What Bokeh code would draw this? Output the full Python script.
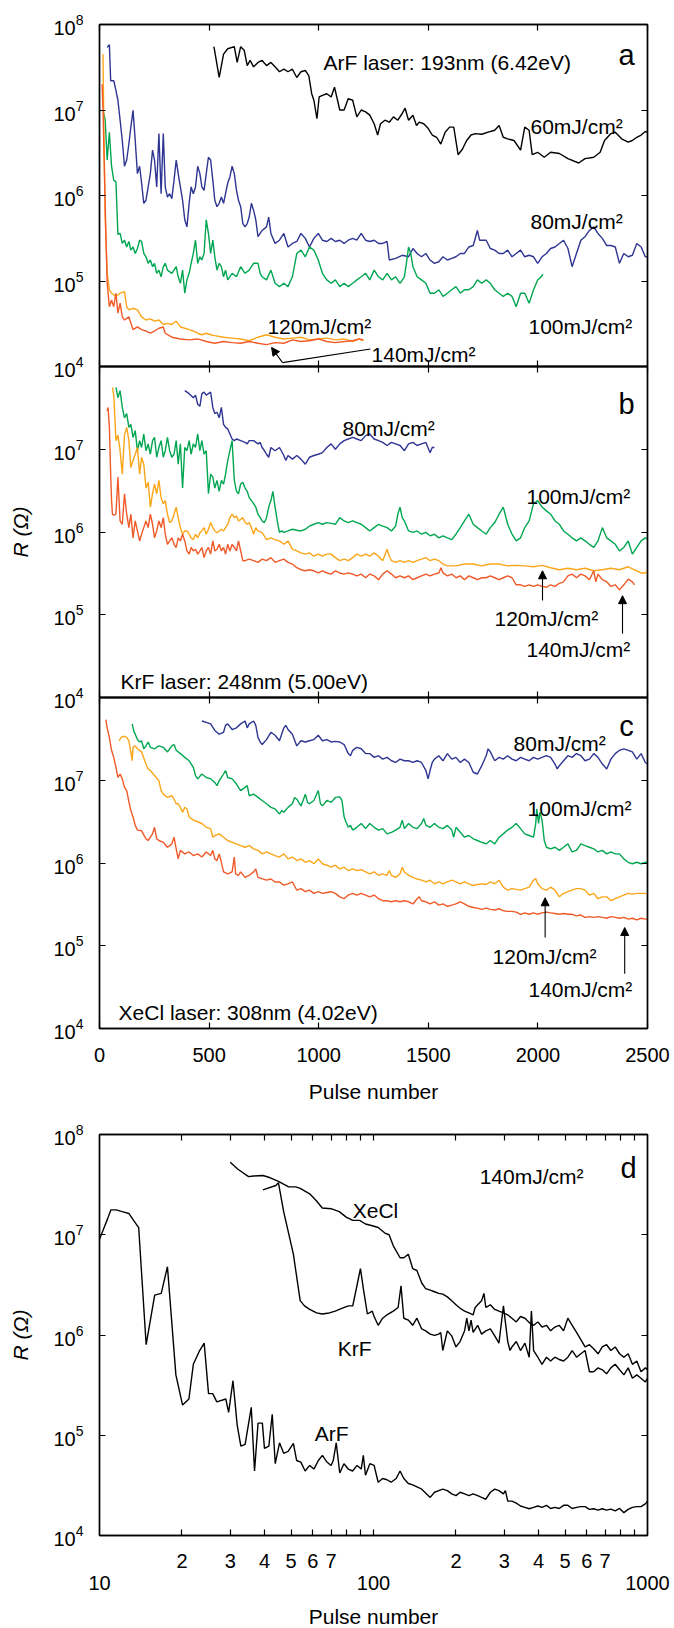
import math
from bokeh.plotting import figure
from bokeh.models import Range1d, LinearAxis, LogAxis, FixedTicker, Label, Arrow, NormalHead, CustomJSTickFormatter
from bokeh.layouts import column
from bokeh.embed import file_html
from bokeh.resources import INLINE

FONT = "Liberation Sans"
BLUE = "#2E3592"
GREEN = "#00A651"
ORANGE = "#FAA61A"
RED = "#F05A28"
BLACK = "#000000"

# ---------------- data (pulse number, resistance in ohm) ----------------
# panel a : ArF
a60 = [(522,5.5e7),(546,2.4e7),(566,4.5e7),(585,5.2e7),(615,5.5e7),(628,3.6e7),(644,5.5e7),(660,5.0e7),(674,3.3e7),(687,3.8e7),
       (703,3.2e7),(723,3.6e7),(742,3.8e7),(762,3.3e7),(782,3.6e7),(801,3.2e7),(821,2.8e7),(841,3.0e7),(860,2.8e7),(880,3.0e7),
       (900,2.4e7),(919,2.8e7),(939,2.9e7),(955,2.5e7),(968,1.55e7),(978,1.3e7),(992,7.9e6),(1002,1.42e7),(1017,1.48e7),(1037,1.55e7),
       (1057,1.42e7),(1072,1.85e7),(1086,1.3e7),(1096,1.0e7),(1116,1.0e7),(1135,1.36e7),(1155,1.3e7),(1174,8.3e6),(1194,1.0e7),(1214,9.5e6),
       (1233,8.7e6),(1253,6.9e6),(1269,5.1e6),(1282,6.9e6),(1302,7.6e6),(1322,7.2e6),(1341,8.3e6),(1361,7.6e6),(1381,9.1e6),(1394,1.05e7),
       (1410,7.6e6),(1430,8.7e6),(1446,6.6e6),(1459,7.2e6),(1479,6.9e6),(1499,6.1e6),(1518,5.1e6),(1538,4.8e6),(1557,4.0e6),(1577,5.5e6),
       (1597,6.3e6),(1616,6.3e6),(1636,3.0e6),(1656,3.5e6),(1675,4.4e6),(1695,5.1e6),(1715,5.3e6),(1744,5.2e6),(1773,5.5e6),(1803,5.8e6),
       (1823,6.6e6),(1842,4.8e6),(1862,4.6e6),(1891,4.4e6),(1921,3.4e6),(1940,6.3e6),(1960,5.8e6),(1974,3.0e6),(1999,3.2e6),(2029,2.8e6),
       (2058,3.2e6),(2098,3.1e6),(2137,2.7e6),(2186,2.4e6),(2215,2.7e6),(2255,2.8e6),(2284,3.2e6),(2304,4.4e6),(2333,5.3e6),(2353,5.5e6),
       (2382,4.6e6),(2412,4.2e6),(2431,4.4e6),(2451,4.8e6),(2471,5.1e6),(2490,5.6e6),(2500,5.5e6)]
a80 = [(35,5.4e7),(45,5.8e7),(51,2.2e7),(65,2.2e7),(75,1.7e7),(84,1.3e7),(94,7.6e6),(104,4.4e6),(114,2.2e6),(124,2.6e6),(134,4.0e6),
       (143,6.3e6),(153,9.9e6),(163,4.4e6),(173,1.8e6),(183,2.2e6),(192,1.4e6),(202,8.1e5),(212,8.8e5),(222,1.26e6),(232,1.8e6),(242,3.4e6),
       (251,2.6e6),(261,1.26e6),(271,5.3e6),(281,1.05e6),(291,5.3e6),(300,1.26e6),(310,9.6e5),(320,1.05e6),(330,9.2e5),(340,1.5e6),(350,2.6e6),
       (359,1.8e6),(369,1.26e6),(379,8.8e5),(389,5.2e5),(399,4.3e5),(409,8.1e5),(418,1.26e6),(428,1.05e6),(438,1.26e6),(448,2.2e6),(458,1.8e6),
       (467,1.26e6),(477,1.15e6),(487,1.8e6),(497,2.8e6),(507,2.6e6),(517,1.5e6),(526,8.8e5),(536,7.4e5),(546,8.1e5),(556,9.6e5),(566,8.1e5),
       (575,1.05e6),(585,1.4e6),(595,1.65e6),(605,2.2e6),(615,1.8e6),(625,1.15e6),(634,8.8e5),(644,7.4e5),(654,4.7e5),(664,4.3e5),(674,4.7e5),
       (683,5.6e5),(693,8.1e5),(703,6.7e5),(713,5.2e5),(723,3.3e5),(742,3.9e5),(762,4.3e5),(772,5.6e5),(782,3.6e5),(801,2.75e5),(821,3.0e5),
       (841,3.6e5),(860,2.5e5),(880,2.75e5),(900,2.9e5),(919,3.6e5),(939,3.15e5),(958,2.5e5),(978,3.15e5),(998,3.6e5),(1017,3.0e5),(1037,2.9e5),
       (1057,3.15e5),(1076,2.9e5),(1096,3.0e5),(1116,2.75e5),(1135,3.0e5),(1155,3.15e5),(1174,3.0e5),(1194,3.6e5),(1214,3.0e5),(1233,2.9e5),
       (1253,3.0e5),(1273,2.75e5),(1292,2.75e5),(1312,2.9e5),(1322,1.76e5),(1351,1.84e5),(1381,2.0e5),(1410,1.92e5),(1430,2.4e5),(1449,2.1e5),
       (1469,1.92e5),(1489,2.1e5),(1508,1.76e5),(1528,1.61e5),(1548,1.68e5),(1567,1.92e5),(1587,1.76e5),(1607,1.84e5),(1626,1.92e5),(1646,2.1e5),
       (1665,2.1e5),(1685,2.5e5),(1705,2.6e5),(1724,3.9e5),(1734,3.0e5),(1764,3.0e5),(1783,2.4e5),(1803,2.3e5),(1823,2.1e5),(1842,2.1e5),
       (1862,2.3e5),(1882,1.92e5),(1901,2.1e5),(1921,2.3e5),(1940,1.92e5),(1960,2.0e5),(1980,1.92e5),(1999,1.61e5),(2019,1.92e5),(2039,2.1e5),
       (2058,2.4e5),(2078,2.5e5),(2098,2.75e5),(2117,3.0e5),(2137,2.4e5),(2156,1.47e5),(2176,2.1e5),(2196,3.0e5),(2215,3.3e5),(2235,3.9e5),
       (2255,4.3e5),(2274,3.6e5),(2294,3.15e5),(2314,2.6e5),(2333,2.6e5),(2353,2.5e5),(2372,1.61e5),(2392,2.1e5),(2412,1.92e5),(2431,2.0e5),
       (2451,2.75e5),(2471,2.5e5),(2490,1.92e5),(2500,1.92e5)]
a100 = [(16,1.0e7),(26,7.6e6),(35,2.6e6),(45,5.5e6),(55,2.2e6),(65,1.5e6),(75,1.45e6),(84,3.5e5),(94,3.6e5),(104,2.75e5),(114,3.0e5),
        (124,2.5e5),(134,2.9e5),(143,2.3e5),(153,2.5e5),(163,2.1e5),(173,2.4e5),(183,3.0e5),(192,2.9e5),(202,2.1e5),(212,1.92e5),(222,1.61e5),
        (232,1.76e5),(242,1.47e5),(251,1.61e5),(261,1.23e5),(271,1.34e5),(281,1.12e5),(291,1.47e5),(300,1.61e5),(310,1.34e5),(330,1.23e5),
        (350,1.47e5),(359,1.12e5),(369,9.4e4),(379,1.34e5),(389,7.2e4),(399,1.03e5),(409,1.23e5),(418,1.61e5),(428,2.1e5),(438,3.0e5),
        (448,1.61e5),(458,1.92e5),(467,1.76e5),(477,2.1e5),(487,5.2e5),(497,3.6e5),(507,2.1e5),(517,3.0e5),(526,1.92e5),(536,1.34e5),
        (546,1.61e5),(556,1.47e5),(566,1.12e5),(575,1.34e5),(585,1.03e5),(605,1.23e5),(625,1.12e5),(644,1.47e5),(664,1.23e5),(683,1.34e5),
        (703,1.61e5),(723,1.61e5),(733,1.23e5),(742,1.12e5),(762,1.03e5),(782,1.34e5),(801,9.4e4),(821,8.6e4),(841,9.4e4),(860,8.6e4),
        (880,1.12e5),(900,2.1e5),(919,2.3e5),(939,1.92e5),(958,2.5e5),(978,2.3e5),(998,1.76e5),(1017,1.23e5),(1037,1.03e5),(1057,9.4e4),
        (1076,1.03e5),(1096,8.6e4),(1116,9.4e4),(1135,8.6e4),(1155,9.4e4),(1174,1.03e5),(1194,1.12e5),(1214,1.23e5),(1233,1.03e5),(1253,1.34e5),
        (1273,1.12e5),(1292,1.03e5),(1312,1.23e5),(1332,1.03e5),(1351,1.12e5),(1371,9.4e4),(1391,1.12e5),(1400,1.61e5),(1410,2.5e5),(1420,2.1e5),
        (1430,1.47e5),(1449,1.12e5),(1469,1.03e5),(1489,9.4e4),(1508,7.2e4),(1528,7.2e4),(1548,7.9e4),(1567,6.6e4),(1587,7.2e4),(1607,7.9e4),
        (1626,8.6e4),(1646,7.2e4),(1665,7.9e4),(1685,7.9e4),(1705,8.6e4),(1724,1.03e5),(1744,9.4e4),(1764,1.03e5),(1783,9.4e4),(1803,7.9e4),
        (1823,7.2e4),(1842,6.6e4),(1862,7.2e4),(1882,6.6e4),(1901,5.0e4),(1921,7.2e4),(1940,7.2e4),(1960,5.5e4),(1980,7.9e4),(1999,1.03e5),
        (2015,1.12e5),(2023,1.2e5)]
a120 = [(16,4.5e7),(20,5.3e6),(26,5.6e5),(35,1.23e5),(45,7.9e4),(55,7.2e4),(75,6.6e4),(94,7.2e4),(114,7.5e4),(124,5.0e4),(134,4.6e4),
        (153,4.8e4),(173,4.6e4),(192,3.8e4),(212,3.5e4),(232,3.6e4),(251,3.4e4),(271,3.5e4),(291,3.1e4),(310,3.2e4),(330,3.1e4),(350,3.4e4),
        (369,2.9e4),(389,2.8e4),(409,2.7e4),(428,2.6e4),(448,2.45e4),(467,2.35e4),(487,2.45e4),(507,2.35e4),(526,2.3e4),(566,2.2e4),
        (605,2.15e4),(644,2.1e4),(683,2.0e4),(723,2.2e4),(762,2.35e4),(801,2.2e4),(841,2.1e4),(880,2.15e4),(919,2.2e4),(958,2.05e4),
        (998,2.1e4),(1037,2.15e4),(1076,2.05e4),(1116,2.1e4),(1155,1.96e4),(1184,2.1e4),(1204,2.0e4)]
a140 = [(12,2.0e7),(16,1.0e7),(22,2.2e6),(26,7.4e5),(29,3.6e5),(35,9.4e4),(45,5.0e4),(55,6.0e4),(65,5.0e4),(75,7.2e4),(84,4.2e4),
        (94,5.5e4),(104,3.8e4),(114,3.5e4),(134,3.8e4),(153,2.7e4),(173,2.9e4),(192,2.7e4),(212,2.6e4),(232,2.45e4),(251,2.6e4),(271,2.8e4),
        (291,2.9e4),(300,2.45e4),(330,2.2e4),(369,2.1e4),(409,2.05e4),(448,2.1e4),(487,1.96e4),(526,1.87e4),(566,1.96e4),(605,1.9e4),
        (644,1.87e4),(683,1.96e4),(723,1.87e4),(762,1.8e4),(801,1.9e4),(841,1.87e4),(880,2.05e4),(919,1.96e4),(958,2.0e4),(998,2.1e4),
        (1037,1.96e4),(1076,1.9e4),(1116,1.96e4),(1155,2.0e4),(1184,2.1e4),(1204,2.05e4)]

# panel b : KrF
b80 = [(389,5.1e7),(409,4.7e7),(428,4.2e7),(438,4.5e7),(448,3.5e7),(458,3.3e7),(467,4.7e7),(477,4.9e7),(487,4.5e7),(497,4.7e7),
       (507,4.9e7),(517,3.2e7),(526,2.7e7),(536,2.8e7),(546,2.4e7),(556,3.2e7),(566,2.0e7),(575,1.84e7),(585,1.76e7),(595,1.53e7),
       (605,1.33e7),(615,1.27e7),(625,1.33e7),(644,1.27e7),(664,1.21e7),(674,1.16e7),(683,1.27e7),(703,1.27e7),(723,1.16e7),(733,1.21e7),
       (742,1.05e7),(752,9.6e6),(762,8.7e6),(772,8.0e6),(782,1.05e7),(801,9.6e6),(821,1.05e7),(841,8.4e6),(850,7.3e6),(860,8.4e6),
       (880,7.6e6),(900,8.4e6),(919,7.6e6),(939,6.6e6),(958,8.0e6),(978,8.4e6),(998,8.7e6),(1017,9.1e6),(1037,1.05e7),(1057,1.16e7),
       (1076,1.0e7),(1096,1.16e7),(1116,1.27e7),(1135,1.33e7),(1155,1.39e7),(1174,1.33e7),(1194,1.27e7),(1214,1.46e7),(1233,1.53e7),
       (1253,1.33e7),(1273,1.27e7),(1292,1.21e7),(1312,1.11e7),(1332,1.21e7),(1351,1.16e7),(1371,1.11e7),(1391,9.6e6),(1410,1.16e7),
       (1430,1.21e7),(1449,1.11e7),(1469,1.16e7),(1489,1.21e7),(1508,9.1e6),(1518,1.05e7),(1528,1.05e7)]
b100 = [(75,5.6e7),(84,4.2e7),(94,5.1e7),(104,3.2e7),(114,2.4e7),(124,2.7e7),(134,1.84e7),(143,2.0e7),(153,1.39e7),(163,1.68e7),
        (173,9.6e6),(183,1.27e7),(192,1.05e7),(202,1.53e7),(212,9.6e6),(222,1.16e7),(232,8.7e6),(242,1.27e7),(251,1.39e7),(261,8.0e6),
        (271,1.05e7),(281,1.27e7),(291,8.0e6),(300,9.6e6),(310,1.39e7),(320,9.6e6),(330,8.0e6),(340,8.7e6),(350,1.27e7),(359,6.6e6),
        (369,1.16e7),(379,3.4e6),(389,1.05e7),(399,9.6e6),(409,1.27e7),(418,8.7e6),(428,1.16e7),(438,1.05e7),(448,1.53e7),(458,9.6e6),
        (467,1.27e7),(477,8.7e6),(487,9.6e6),(497,2.9e6),(507,5.0e6),(517,4.6e6),(526,3.4e6),(536,4.2e6),(546,3.1e6),(556,4.2e6),
        (566,3.8e6),(575,5.0e6),(585,7.3e6),(595,9.6e6),(605,1.27e7),(615,4.2e6),(625,3.1e6),(634,2.9e6),(644,3.8e6),(654,4.0e6),
        (664,3.4e6),(674,3.1e6),(683,2.6e6),(693,2.4e6),(703,2.2e6),(713,2.0e6),(723,1.64e6),(733,1.49e6),(742,1.36e6),(752,1.3e6),
        (762,1.49e6),(772,2.0e6),(782,2.4e6),(791,3.1e6),(801,2.0e6),(811,1.36e6),(821,9.9e5),(831,1.03e6),(841,9.9e5),(860,1.03e6),
        (880,1.08e6),(900,1.05e6),(919,1.03e6),(939,1.08e6),(958,1.18e6),(978,1.24e6),(998,1.3e6),(1017,1.24e6),(1037,1.3e6),(1057,1.27e6),
        (1076,1.24e6),(1096,1.49e6),(1116,1.36e6),(1135,1.3e6),(1155,1.36e6),(1174,1.3e6),(1194,1.24e6),(1214,1.13e6),(1233,1.03e6),
        (1253,1.13e6),(1273,1.24e6),(1292,1.18e6),(1312,1.13e6),(1332,1.03e6),(1351,1.18e6),(1361,1.64e6),(1371,2.0e6),(1381,1.49e6),
        (1391,1.36e6),(1410,1.03e6),(1430,9.9e5),(1449,1.03e6),(1469,9.4e5),(1489,9.9e5),(1508,9.0e5),(1528,9.4e5),(1548,8.5e5),(1567,9.0e5),
        (1587,8.5e5),(1607,8.1e5),(1626,9.4e5),(1646,1.13e6),(1665,1.36e6),(1685,1.64e6),(1705,1.24e6),(1724,1.13e6),(1744,1.03e6),
        (1764,9.4e5),(1783,1.13e6),(1803,1.3e6),(1823,1.64e6),(1842,2.0e6),(1862,1.24e6),(1882,9.4e5),(1901,7.8e5),(1921,8.5e5),(1940,1.13e6),
        (1960,1.36e6),(1980,2.2e6),(1999,2.4e6),(2019,2.0e6),(2039,1.8e6),(2058,1.64e6),(2078,1.36e6),(2098,1.24e6),(2117,1.03e6),(2137,9.4e5),
        (2156,8.5e5),(2176,7.8e5),(2196,8.5e5),(2215,7.8e5),(2235,7.1e5),(2255,6.5e5),(2274,7.8e5),(2294,1.13e6),(2314,8.5e5),(2333,7.8e5),
        (2353,7.1e5),(2372,5.9e5),(2392,6.5e5),(2412,7.8e5),(2431,5.4e5),(2451,6.5e5),(2471,7.8e5),(2490,8.5e5),(2500,8.2e5)]
b120 = [(59,5.6e7),(65,4.5e7),(71,2.2e7),(75,1.27e7),(84,1.48e7),(94,9.6e6),(104,5.0e6),(114,1.48e7),(124,1.84e7),(134,1.27e7),
        (143,6.0e6),(153,7.3e6),(163,8.7e6),(173,1.05e7),(183,5.0e6),(192,8.0e6),(202,6.6e6),(212,3.4e6),(222,4.0e6),(232,2.0e6),
        (242,2.9e6),(251,3.8e6),(261,2.9e6),(271,4.2e6),(281,2.6e6),(291,2.2e6),(300,2.4e6),(310,1.64e6),(320,1.3e6),(330,1.36e6),
        (340,1.64e6),(350,2.0e6),(359,1.49e6),(369,1.13e6),(379,9.4e5),(389,1.03e6),(399,1.03e6),(409,9.4e5),(418,8.5e5),(428,8.1e5),
        (438,9.4e5),(448,8.5e5),(458,9.8e5),(467,1.03e6),(477,1.13e6),(487,9.4e5),(497,1.08e6),(507,1.3e6),(517,1.13e6),(526,1.03e6),
        (536,9.8e5),(546,1.03e6),(556,1.08e6),(566,1.03e6),(575,1.13e6),(585,1.24e6),(595,1.49e6),(605,1.64e6),(615,1.49e6),(625,1.56e6),
        (634,1.36e6),(644,1.42e6),(654,1.49e6),(664,1.3e6),(674,1.24e6),(683,1.3e6),(693,1.13e6),(703,9.4e5),(713,1.13e6),(723,1.03e6),
        (742,9.8e5),(762,8.1e5),(782,8.5e5),(801,8.1e5),(821,7.8e5),(841,7.1e5),(860,7.8e5),(880,6.2e5),(900,5.9e5),(919,5.6e5),
        (939,5.4e5),(958,5.6e5),(978,5.1e5),(998,5.4e5),(1017,5.1e5),(1037,5.4e5),(1057,5.4e5),(1076,4.9e5),(1096,4.5e5),(1116,4.7e5),
        (1135,4.5e5),(1155,4.9e5),(1174,5.4e5),(1194,5.1e5),(1214,5.4e5),(1233,5.1e5),(1253,5.6e5),(1273,5.1e5),(1292,4.5e5),(1312,6.2e5),
        (1322,5.1e5),(1332,4.5e5),(1351,4.3e5),(1371,4.5e5),(1391,4.3e5),(1410,4.5e5),(1430,4.3e5),(1449,4.5e5),(1469,4.7e5),(1489,4.9e5),
        (1508,4.5e5),(1528,4.7e5),(1548,4.5e5),(1567,4.1e5),(1587,3.9e5),(1626,3.9e5),(1665,4.1e5),(1705,4.1e5),(1744,3.9e5),(1783,4.1e5),
        (1823,4.1e5),(1862,3.9e5),(1901,3.95e5),(1940,3.9e5),(1980,3.8e5),(2019,3.95e5),(2058,3.7e5),(2098,3.5e5),(2137,3.65e5),(2176,3.5e5),
        (2215,3.65e5),(2255,3.4e5),(2294,3.5e5),(2333,3.65e5),(2372,3.5e5),(2412,3.8e5),(2451,3.4e5),(2471,3.2e5),(2490,3.2e5),(2500,3.4e5)]
b140 = [(35,2.9e7),(39,3.2e7),(45,1.84e7),(51,5.0e6),(55,2.4e6),(59,1.64e6),(65,1.6e6),(75,1.64e6),(84,4.6e6),(94,1.36e6),(104,1.24e6),
        (114,2.9e6),(124,1.64e6),(134,1.13e6),(143,1.64e6),(153,8.5e5),(163,1.36e6),(173,1.03e6),(183,7.8e5),(192,9.4e5),(202,1.13e6),
        (212,1.36e6),(222,1.13e6),(232,1.64e6),(242,1.24e6),(251,8.5e5),(261,1.03e6),(271,1.36e6),(281,1.13e6),(291,1.49e6),(300,9.4e5),
        (310,7.1e5),(320,7.8e5),(330,8.5e5),(340,7.1e5),(350,6.5e5),(359,8.5e5),(369,7.8e5),(379,9.4e5),(389,7.8e5),(399,5.9e5),(409,5.4e5),
        (418,6.5e5),(428,5.9e5),(438,6.2e5),(448,5.4e5),(458,5.9e5),(467,6.5e5),(477,4.9e5),(487,5.9e5),(497,6.5e5),(507,5.4e5),(517,7.8e5),
        (526,5.9e5),(536,6.2e5),(546,7.1e5),(556,5.9e5),(566,6.5e5),(575,5.4e5),(585,7.1e5),(595,5.9e5),(605,7.1e5),(615,6.5e5),(625,5.9e5),
        (634,7.8e5),(644,5.9e5),(654,4.5e5),(664,4.5e5),(683,4.7e5),(703,4.5e5),(723,4.3e5),(742,4.7e5),(762,4.5e5),(782,4.9e5),(801,4.3e5),
        (821,4.5e5),(841,4.7e5),(860,4.3e5),(880,4.1e5),(900,3.7e5),(919,3.5e5),(939,3.4e5),(958,3.5e5),(978,3.4e5),(998,3.2e5),(1017,3.4e5),
        (1037,3.2e5),(1057,3.1e5),(1076,3.4e5),(1096,3.2e5),(1116,3.1e5),(1135,3.2e5),(1155,3.1e5),(1174,2.95e5),(1194,3.1e5),(1214,2.8e5),
        (1233,3.1e5),(1253,2.95e5),(1273,2.65e5),(1292,3.1e5),(1312,3.4e5),(1332,3.1e5),(1351,2.8e5),(1371,2.95e5),(1391,2.8e5),(1410,2.95e5),
        (1430,2.65e5),(1449,2.8e5),(1469,2.95e5),(1489,3.1e5),(1508,2.95e5),(1528,3.1e5),(1548,3.2e5),(1558,3.7e5),(1567,3.2e5),(1587,2.95e5),
        (1607,3.1e5),(1626,2.8e5),(1646,2.95e5),(1665,2.65e5),(1685,2.95e5),(1705,2.8e5),(1724,2.65e5),(1744,2.8e5),(1764,2.8e5),(1783,2.95e5),
        (1803,2.8e5),(1823,2.65e5),(1842,2.8e5),(1862,2.95e5),(1882,2.8e5),(1901,2.3e5),(1921,2.3e5),(1940,2.2e5),(1960,2.3e5),(1980,2.2e5),
        (1999,2.3e5),(2019,2.2e5),(2039,2.15e5),(2058,2.3e5),(2078,2.2e5),(2098,2.4e5),(2117,2.5e5),(2137,2.95e5),(2156,3.1e5),(2176,2.8e5),
        (2196,3.1e5),(2215,2.95e5),(2235,2.65e5),(2255,3.4e5),(2264,2.5e5),(2274,3.1e5),(2294,2.65e5),(2314,2.5e5),(2333,2.2e5),(2353,2.3e5),
        (2372,2.0e5),(2392,2.3e5),(2412,2.7e5),(2431,2.5e5),(2441,2.3e5)]

# panel c : XeCl
c80 = [(467,5.2e7),(487,5.0e7),(507,4.8e7),(526,4.0e7),(546,3.6e7),(566,3.8e7),(575,4.6e7),(585,4.8e7),(605,4.1e7),(625,4.3e7),
       (644,4.8e7),(664,5.2e7),(674,4.3e7),(683,4.8e7),(703,5.2e7),(713,4.6e7),(723,3.3e7),(733,2.9e7),(742,2.7e7),(762,3.1e7),
       (782,3.8e7),(801,3.5e7),(821,3.0e7),(841,4.3e7),(850,4.6e7),(860,4.1e7),(880,3.6e7),(900,2.6e7),(919,3.0e7),(939,2.9e7),
       (958,3.0e7),(978,3.1e7),(998,3.5e7),(1017,3.0e7),(1037,3.1e7),(1057,2.9e7),(1076,2.95e7),(1096,2.9e7),(1116,2.7e7),(1135,2.1e7),
       (1145,1.98e7),(1155,2.3e7),(1174,2.5e7),(1194,2.4e7),(1214,2.1e7),(1233,2.1e7),(1253,1.89e7),(1273,1.98e7),(1292,1.8e7),(1312,1.89e7),
       (1332,1.72e7),(1351,1.64e7),(1371,1.8e7),(1391,1.72e7),(1410,1.72e7),(1430,1.64e7),(1449,1.72e7),(1469,1.64e7),(1489,1.31e7),
       (1499,1.04e7),(1508,1.31e7),(1518,1.64e7),(1528,1.8e7),(1548,1.98e7),(1567,1.72e7),(1587,2.1e7),(1607,1.8e7),(1626,1.89e7),
       (1646,1.64e7),(1665,1.8e7),(1685,1.64e7),(1705,1.25e7),(1724,1.19e7),(1744,1.5e7),(1764,1.98e7),(1773,2.4e7),(1783,2.2e7),
       (1803,1.72e7),(1823,1.89e7),(1842,1.8e7),(1862,1.98e7),(1882,1.8e7),(1901,1.72e7),(1921,1.89e7),(1940,1.8e7),(1960,1.72e7),
       (1980,1.89e7),(1999,1.8e7),(2019,1.89e7),(2039,1.98e7),(2058,1.89e7),(2078,1.57e7),(2088,1.37e7),(2098,1.5e7),(2117,1.72e7),
       (2137,1.98e7),(2156,1.89e7),(2176,2.1e7),(2196,1.98e7),(2215,1.72e7),(2235,1.8e7),(2255,2.1e7),(2274,1.89e7),(2294,1.57e7),
       (2314,1.37e7),(2333,1.8e7),(2353,2.1e7),(2372,2.3e7),(2392,2.4e7),(2412,2.3e7),(2431,2.2e7),(2451,1.8e7),(2471,2.1e7),(2490,1.64e7),
       (2500,1.57e7)]
c100 = [(149,4.8e7),(157,3.9e7),(163,3.6e7),(173,3.1e7),(183,2.9e7),(192,3.0e7),(202,2.4e7),(212,2.6e7),(222,2.9e7),(232,2.5e7),
        (251,2.4e7),(271,2.6e7),(291,2.5e7),(310,2.2e7),(320,2.4e7),(330,2.6e7),(340,2.7e7),(350,2.3e7),(369,2.1e7),(389,1.89e7),
        (409,1.72e7),(428,1.43e7),(438,1.14e7),(448,1.04e7),(467,1.19e7),(487,1.08e7),(507,1.04e7),(526,9.4e6),(536,8.6e6),(546,9.9e6),
        (556,1.08e7),(566,1.19e7),(575,1.31e7),(585,1.08e7),(605,1.04e7),(625,9.0e6),(634,8.2e6),(644,7.5e6),(664,8.2e6),(674,8.6e6),
        (683,6.5e6),(703,6.8e6),(723,6.2e6),(742,5.7e6),(762,5.2e6),(782,4.7e6),(801,4.5e6),(821,3.9e6),(831,4.3e6),(841,4.1e6),
        (860,4.7e6),(880,5.2e6),(890,6.2e6),(900,5.9e6),(919,4.9e6),(929,5.7e6),(939,6.8e6),(949,5.4e6),(958,5.2e6),(978,5.7e6),
        (998,7.5e6),(1008,5.2e6),(1017,4.9e6),(1037,5.7e6),(1057,5.4e6),(1076,6.2e6),(1096,6.3e6),(1106,5.7e6),(1116,3.6e6),(1125,3.1e6),
        (1135,2.7e6),(1145,2.85e6),(1155,2.5e6),(1174,2.7e6),(1194,3.0e6),(1214,2.6e6),(1233,3.0e6),(1253,2.7e6),(1273,2.5e6),(1292,2.6e6),
        (1312,2.25e6),(1332,2.35e6),(1351,2.5e6),(1371,2.7e6),(1381,3.3e6),(1391,2.6e6),(1410,3.0e6),(1430,2.7e6),(1449,2.6e6),(1469,3.0e6),
        (1479,3.45e6),(1489,2.85e6),(1508,2.7e6),(1528,3.0e6),(1548,2.7e6),(1567,2.6e6),(1587,2.85e6),(1607,2.5e6),(1616,2.05e6),(1626,2.7e6),
        (1646,2.35e6),(1665,2.05e6),(1685,2.15e6),(1705,1.96e6),(1724,1.87e6),(1744,1.78e6),(1764,1.7e6),(1783,1.87e6),(1803,1.7e6),
        (1823,2.05e6),(1842,2.25e6),(1862,2.5e6),(1882,2.7e6),(1901,3.0e6),(1921,2.6e6),(1940,2.25e6),(1960,2.15e6),(1980,2.05e6),
        (1990,3.0e6),(1995,4.5e6),(2003,3.0e6),(2009,4.1e6),(2019,3.3e6),(2029,1.87e6),(2039,1.55e6),(2058,1.48e6),(2078,1.55e6),
        (2098,1.42e6),(2117,1.55e6),(2137,1.7e6),(2156,1.36e6),(2176,1.42e6),(2196,1.7e6),(2215,1.62e6),(2235,1.55e6),(2255,1.48e6),
        (2274,1.36e6),(2294,1.42e6),(2314,1.29e6),(2333,1.36e6),(2353,1.29e6),(2372,1.29e6),(2392,1.12e6),(2412,1.02e6),(2431,9.8e5),
        (2451,1.02e6),(2471,9.8e5),(2490,1.02e6),(2500,1.02e6)]
c120 = [(90,3.0e7),(98,3.3e7),(114,3.4e7),(124,3.3e7),(134,3.0e7),(143,2.2e7),(149,1.72e7),(153,2.5e7),(163,2.6e7),(173,2.4e7),
        (192,2.2e7),(212,1.57e7),(222,1.37e7),(232,1.31e7),(251,1.14e7),(271,9.9e6),(281,7.5e6),(291,6.8e6),(310,6.2e6),(330,6.5e6),
        (340,5.9e6),(350,5.2e6),(359,5.2e6),(369,4.7e6),(379,4.1e6),(389,4.7e6),(399,4.5e6),(409,3.6e6),(428,3.3e6),(448,3.15e6),
        (467,3.0e6),(487,2.7e6),(507,2.6e6),(517,2.05e6),(526,2.15e6),(546,2.25e6),(566,2.05e6),(585,1.87e6),(605,1.78e6),(625,1.7e6),
        (644,1.62e6),(664,1.55e6),(683,1.62e6),(703,1.48e6),(723,1.42e6),(742,1.29e6),(762,1.36e6),(782,1.29e6),(801,1.23e6),(821,1.18e6),
        (841,1.29e6),(860,1.12e6),(880,1.18e6),(900,1.07e6),(919,1.12e6),(939,1.02e6),(958,1.07e6),(978,9.8e5),(998,1.12e6),(1017,9.8e5),
        (1037,9.4e5),(1057,8.9e5),(1076,9.4e5),(1096,8.5e5),(1116,8.9e5),(1135,8.1e5),(1155,8.5e5),(1174,8.1e5),(1194,8.3e5),(1214,7.8e5),
        (1233,7.4e5),(1253,7.8e5),(1273,7.1e5),(1292,7.4e5),(1312,7.1e5),(1322,8.1e5),(1332,7.1e5),(1351,6.7e5),(1371,7.4e5),(1381,8.9e5),
        (1391,7.8e5),(1410,7.1e5),(1430,6.7e5),(1449,6.4e5),(1469,6.2e5),(1489,5.9e5),(1508,6.2e5),(1528,5.6e5),(1548,5.9e5),(1567,5.6e5),
        (1587,5.9e5),(1607,6.2e5),(1626,5.9e5),(1646,5.6e5),(1665,5.9e5),(1685,5.6e5),(1705,5.35e5),(1724,5.5e5),(1744,5.6e5),(1764,5.5e5),
        (1783,5.9e5),(1803,5.6e5),(1823,6.2e5),(1842,5.1e5),(1862,4.7e5),(1882,4.9e5),(1901,4.8e5),(1921,4.7e5),(1940,4.9e5),(1960,5.1e5),
        (1980,6.2e5),(1990,6.5e5),(1999,5.6e5),(2019,4.9e5),(2039,4.7e5),(2058,5.1e5),(2078,4.7e5),(2098,3.9e5),(2117,4.3e5),(2137,4.5e5),
        (2156,4.7e5),(2176,4.9e5),(2196,4.9e5),(2215,4.7e5),(2235,4.1e5),(2255,4.3e5),(2274,3.7e5),(2294,3.9e5),(2314,3.9e5),(2333,3.5e5),
        (2353,3.7e5),(2372,3.9e5),(2392,4.1e5),(2412,4.3e5),(2431,4.2e5),(2451,4.3e5),(2471,4.3e5),(2490,4.3e5),(2500,4.2e5)]
c140 = [(29,5.4e7),(35,4.3e7),(45,3.3e7),(55,2.3e7),(65,1.89e7),(75,1.43e7),(84,1.08e7),(94,1.19e7),(104,1.04e7),(114,8.2e6),
        (124,7.5e6),(134,5.5e6),(143,4.3e6),(153,3.6e6),(163,2.85e6),(173,2.5e6),(192,2.45e6),(212,1.96e6),(222,1.87e6),(232,2.05e6),
        (242,2.25e6),(251,2.7e6),(261,1.96e6),(271,1.87e6),(291,1.78e6),(310,1.55e6),(320,1.62e6),(330,1.7e6),(340,2.05e6),(350,1.48e6),
        (359,1.12e6),(369,1.42e6),(389,1.29e6),(409,1.36e6),(428,1.23e6),(448,1.29e6),(467,1.18e6),(487,1.36e6),(507,1.23e6),(517,1.42e6),
        (526,1.12e6),(536,1.07e6),(546,1.29e6),(556,1.02e6),(566,7.8e5),(585,7.4e5),(605,7.8e5),(615,1.18e6),(621,7.4e5),(634,7.1e5),
        (644,7.8e5),(664,6.7e5),(683,7.1e5),(703,7.8e5),(713,8.5e5),(723,6.7e5),(762,6.2e5),(782,6.4e5),(801,5.9e5),(821,5.9e5),
        (841,5.4e5),(860,5.6e5),(880,5.9e5),(900,4.7e5),(919,4.9e5),(939,4.5e5),(958,4.7e5),(978,4.3e5),(998,4.5e5),(1017,4.3e5),
        (1037,4.4e5),(1057,4.5e5),(1076,4.3e5),(1096,3.9e5),(1116,3.7e5),(1135,4.1e5),(1155,4.3e5),(1174,4.1e5),(1194,4.3e5),(1214,4.1e5),
        (1233,3.9e5),(1253,4.1e5),(1273,3.7e5),(1292,3.5e5),(1312,3.5e5),(1332,3.4e5),(1351,3.5e5),(1371,3.4e5),(1391,3.5e5),(1410,3.4e5),
        (1430,3.2e5),(1449,3.7e5),(1459,3.9e5),(1469,3.5e5),(1489,3.4e5),(1508,3.2e5),(1528,3.4e5),(1548,3.1e5),(1567,3.2e5),(1587,3.0e5),
        (1607,3.1e5),(1626,3.2e5),(1646,3.4e5),(1665,3.2e5),(1685,3.0e5),(1705,2.9e5),(1724,2.85e5),(1744,2.75e5),(1764,2.85e5),(1783,2.75e5),
        (1803,2.7e5),(1823,2.8e5),(1842,2.65e5),(1862,2.6e5),(1882,2.6e5),(1901,2.55e5),(1921,2.4e5),(1940,2.5e5),(1960,2.4e5),(1980,2.5e5),
        (1999,2.4e5),(2019,2.5e5),(2039,2.55e5),(2058,2.5e5),(2078,2.45e5),(2098,2.4e5),(2117,2.45e5),(2137,2.4e5),(2156,2.4e5),(2176,2.3e5),
        (2196,2.35e5),(2215,2.2e5),(2235,2.25e5),(2255,2.2e5),(2274,2.25e5),(2294,2.2e5),(2314,2.15e5),(2333,2.25e5),(2353,2.2e5),(2372,2.15e5),
        (2392,2.2e5),(2412,2.1e5),(2431,2.15e5),(2451,2.05e5),(2471,2.15e5),(2490,2.1e5),(2500,2.1e5)]

# panel d : 140 mJ/cm2, log pulse axis
d_xecl = [(30,5.3e7),(32,4.5e7),(35,3.8e7),(36.5,3.85e7),(39.5,3.9e7),(42,3.7e7),(45,3.4e7),(49,3.0e7),(52,3.0e7),(54,2.9e7),
          (58.5,2.56e7),(62,2.17e7),(65,1.85e7),(70,1.82e7),(75,1.7e7),(79.5,1.5e7),(84,1.39e7),(89,1.39e7),(93.5,1.28e7),(99,1.23e7),
          (104,1.18e7),(110,1.04e7),(114,1.0e7),(118,7.8e6),(125,5.9e6),(129,5.9e6),(134,6.4e6),(139,4.6e6),(144,4.4e6),(150,3.3e6),
          (155,2.9e6),(161,2.8e6),(167,2.7e6),(173,2.6e6),(179,2.56e6),(186,2.4e6),(193,2.2e6),(200,2.0e6),(207,1.85e6),(215,1.73e6),
          (223,1.66e6),(231,1.59e6),(235,1.88e6),(240,2.0e6),(248,2.2e6),(253,2.6e6),(257,1.88e6),(267,2.0e6),(277,1.8e6),(287,1.73e6),
          (298,1.66e6),(309,1.59e6),(320,1.47e6),(332,1.35e6),(344,1.53e6),(357,1.47e6),(370,1.33e6),(384,1.25e6),(398,1.35e6),(412,1.2e6),
          (428,1.25e6),(443,1.1e6),(459,1.2e6),(476,1.25e6),(494,1.1e6),(512,1.47e6),(531,1.25e6),(551,1.06e6),(571,9.0e5),(592,7.6e5),
          (614,8.0e5),(636,7.3e5),(660,6.5e5),(684,7.6e5),(709,8.0e5),(735,7.0e5),(762,7.6e5),(791,6.5e5),(820,6.0e5),(850,6.5e5),
          (881,5.1e5),(914,5.5e5),(947,4.3e5),(982,4.7e5),(1000,4.5e5)]
d_krf = [(39.5,2.8e7),(44,3.1e7),(45,3.3e7),(47,1.7e7),(51,6.4e6),(54,2.2e6),(56,1.95e6),(58.5,1.8e6),(62,1.66e6),(65,1.62e6),
         (69,1.66e6),(72.5,1.73e6),(77,1.85e6),(81,1.95e6),(84,1.95e6),(87,3.1e6),(89.6,4.6e6),(92,2.8e6),(95,1.62e6),(99,1.73e6),
         (100.5,1.53e6),(104,1.25e6),(108,1.47e6),(112,1.59e6),(118,1.73e6),(123,1.88e6),(126,3.1e6),(129,1.47e6),(134,1.41e6),(139,1.25e6),
         (144,1.47e6),(150,1.15e6),(155,1.1e6),(161,1.02e6),(167,9.9e5),(173,1.02e6),(176,1.06e6),(179,7.0e5),(186,1.1e6),(193,9.8e5),
         (200,7.6e5),(207,8.6e5),(215,1.1e6),(219,1.47e6),(223,1.1e6),(227,1.41e6),(231,1.06e6),(240,1.25e6),(248,1.02e6),(257,1.1e6),
         (267,1.15e6),(277,9.8e5),(287,8.3e5),(298,1.95e6),(309,8.6e5),(315,7.0e5),(320,7.6e5),(332,8.6e5),(344,7.0e5),(357,8.3e5),
         (370,6.0e5),(377,1.73e6),(384,7.0e5),(398,6.0e5),(412,5.1e5),(428,6.0e5),(443,5.5e5),(459,6.0e5),(476,5.7e5),(494,5.5e5),
         (512,6.0e5),(531,7.0e5),(551,6.0e5),(571,6.5e5),(592,7.0e5),(614,4.3e5),(636,4.3e5),(660,4.7e5),(684,4.5e5),(709,4.1e5),
         (735,4.7e5),(762,5.1e5),(791,4.5e5),(820,4.0e5),(850,4.7e5),(881,3.7e5),(914,4.0e5),(947,3.7e5),(982,3.4e5),(1000,3.7e5)]
d_arf = [(10,9.0e6),(10.7,1.44e7),(11.0,1.77e7),(11.5,1.77e7),(12.1,1.7e7),(12.8,1.63e7),(13.2,1.44e7),(13.9,1.18e7),(14.8,8.0e5),
         (15.9,2.5e6),(16.8,2.6e6),(17.7,4.8e6),(19.0,4.0e5),(20.1,2.0e5),(21.2,2.3e5),(22.0,5.1e5),(23.2,7.0e5),(24.1,8.3e5),(25.0,2.6e5),
         (25.9,2.6e5),(26.8,2.15e5),(28.9,2.3e5),(29.6,1.69e5),(30.7,3.5e5),(31.8,1.27e5),(32.8,7.8e4),(34.0,8.1e4),(35.8,1.9e5),(36.8,4.4e4),
         (37.9,1.32e5),(39.3,1.32e5),(40.0,7.4e4),(41.5,7.8e4),(42.7,1.62e5),(43.8,5.2e4),(45.4,8.4e4),(47.0,6.6e4),(48.8,6.9e4),(51.0,8.3e4),
         (52.4,5.6e4),(54.3,5.4e4),(56.3,4.4e4),(58.5,5.0e4),(60.6,4.6e4),(62.9,5.6e4),(65.1,6.3e4),(67.6,5.4e4),(70.0,5.0e4),(71.3,5.6e4),
         (73.1,8.4e4),(75.3,4.2e4),(78.0,5.2e4),(80.9,4.6e4),(83.9,4.4e4),(87.1,5.0e4),(90.2,4.6e4),(91.8,6.3e4),(93.5,4.0e4),(97.0,5.2e4),
         (100.5,5.0e4),(104,3.4e4),(108,3.7e4),(112,3.6e4),(116,3.4e4),(121,3.7e4),(125,4.4e4),(129,3.7e4),(134,3.3e4),(139,3.2e4),
         (150,2.9e4),(161,2.4e4),(167,2.7e4),(173,2.8e4),(179,2.9e4),(186,2.8e4),(193,2.6e4),(200,2.5e4),(207,2.7e4),(215,2.6e4),
         (223,2.5e4),(231,2.6e4),(240,2.5e4),(248,2.4e4),(257,2.3e4),(267,2.7e4),(277,2.9e4),(287,2.8e4),(298,2.6e4),(303,2.8e4),
         (309,2.2e4),(320,2.2e4),(332,2.1e4),(344,1.97e4),(357,1.91e4),(370,1.85e4),(384,1.91e4),(398,1.97e4),(412,1.91e4),(428,2.0e4),
         (443,1.86e4),(459,1.91e4),(476,1.86e4),(494,2.0e4),(512,2.0e4),(531,1.86e4),(551,1.91e4),(571,1.94e4),(592,1.94e4),(614,1.82e4),
         (636,1.85e4),(660,1.79e4),(684,1.85e4),(709,1.79e4),(735,1.83e4),(762,1.76e4),(791,1.86e4),(820,1.69e4),(850,1.82e4),(881,1.91e4),
         (914,1.94e4),(947,1.94e4),(982,2.07e4),(1000,2.2e4)]

# ---------------- ticks ----------------
x_ticks_lin = [0, 500, 1000, 1500, 2000, 2500]
y_ticks_all = [1e4, 1e5, 1e6, 1e7, 1e8]
y_ticks_low = [1e4, 1e5, 1e6, 1e7]
d_minor_ticks = [20, 30, 40, 50, 60, 70, 80, 90, 100, 200, 300, 400, 500, 600, 700, 800, 900]
d_minor_labels = ["2", "3", "4", "5", "6", "7", "", "", "", "2", "3", "4", "5", "6", "7", "", ""]
d_major_ticks = [10, 100, 1000]
d_major_labels = ["10", "100", "1000"]
y_title = "R (Ω)"


def style_axis(ax, labels=True, standoff=16):
    ax.axis_line_color = BLACK
    ax.axis_line_width = 1.4
    ax.major_tick_line_color = BLACK
    ax.major_tick_line_width = 1.2
    ax.major_tick_in = 6
    ax.major_tick_out = 0
    ax.minor_tick_line_color = None
    ax.major_label_text_font = FONT
    ax.major_label_text_color = BLACK
    ax.axis_label_text_font = FONT
    ax.axis_label_text_font_size = "21px"
    ax.axis_label_text_font_style = "normal"
    ax.axis_label_text_color = BLACK
    if labels:
        ax.major_label_text_font_size = "20px"
        ax.major_label_standoff = standoff
    else:
        # tick marks only: empty labels
        ax.formatter = CustomJSTickFormatter(code="return '';")
        ax.major_label_text_font_size = "2px"
        ax.major_label_standoff = 0


def make_panel(frame_h, top, bottom, yticks, log_x=False):
    if log_x:
        xr, xt = Range1d(10, 1000), "log"
    else:
        xr, xt = Range1d(0, 2500), "linear"
    p = figure(frame_width=548, frame_height=frame_h, x_range=xr, y_range=Range1d(1e4, 1e8),
               x_axis_type=xt, y_axis_type="log", output_backend="svg", toolbar_location=None,
               min_border_left=99, min_border_right=27, min_border_top=top, min_border_bottom=bottom,
               border_fill_color=None, background_fill_color=None,
               outline_line_color=BLACK, outline_line_width=1.4)
    p.xgrid.visible = False
    p.ygrid.visible = False
    left = p.yaxis[0]
    left.ticker = FixedTicker(ticks=yticks)
    style_axis(left, True, 16)
    right = LogAxis(ticker=FixedTicker(ticks=y_ticks_all))
    style_axis(right, False)
    p.add_layout(right, "right")
    return p, left


def add_text(p, x, y, s, size="21px", align="left"):
    p.add_layout(Label(x=x, y=y, text=s, text_font=FONT, text_font_size=size, text_color=BLACK,
                       text_align=align, text_baseline="alphabetic"))


def add_arrow(p, x0, y0, x1, y1):
    p.add_layout(Arrow(end=NormalHead(size=8, line_color=BLACK, fill_color=BLACK, line_width=1),
                       x_start=x0, y_start=y0, x_end=x1, y_end=y1, line_color=BLACK, line_width=1.1))


def draw(p, series, color):
    xs = [v[0] for v in series]
    rs = [v[1] for v in series]
    p.line(xs, rs, line_color=color, line_width=1.4)


def lin_x_axes(p, labels):
    bx = p.xaxis[0]
    bx.ticker = FixedTicker(ticks=x_ticks_lin)
    style_axis(bx, labels, 19)
    top_ax = LinearAxis(ticker=FixedTicker(ticks=x_ticks_lin))
    style_axis(top_ax, False)
    p.add_layout(top_ax, "above")
    return bx


def y_title_on(ax):
    ax.axis_label = y_title
    ax.axis_label_text_font_style = "italic"
    ax.axis_label_standoff = 18


# ---------------- panel a ----------------
pa, _ = make_panel(342, 24, 20, y_ticks_all)
lin_x_axes(pa, False)
draw(pa, a60, BLACK)
draw(pa, a80, BLUE)
draw(pa, a100, GREEN)
draw(pa, a120, ORANGE)
draw(pa, a140, RED)
add_text(pa, 1022, 3.6e7, "ArF laser: 193nm (6.42eV)")
add_text(pa, 2404, 4.34e7, "a", size="29px", align="center")
add_text(pa, 1966, 6.4e6, "60mJ/cm²")
add_text(pa, 1966, 5.0e5, "80mJ/cm²")
add_text(pa, 1957, 2.9e4, "100mJ/cm²")
add_text(pa, 766, 2.9e4, "120mJ/cm²")
add_text(pa, 1241, 1.38e4, "140mJ/cm²")
pa.line([1236, 835], [1.6e4, 1.11e4], line_color=BLACK, line_width=1.1)
add_arrow(pa, 835, 1.11e4, 785, 1.67e4)

# ---------------- panel b ----------------
pb, pb_left = make_panel(331, 20, 20, y_ticks_low)
pb.margin = (-40, 0, 0, 0)
lin_x_axes(pb, False)
y_title_on(pb_left)
draw(pb, b80, BLUE)
draw(pb, b100, GREEN)
draw(pb, b120, ORANGE)
draw(pb, b140, RED)
add_text(pb, 2404, 3.57e7, "b", size="29px", align="center")
add_text(pb, 1109, 1.78e7, "80mJ/cm²")
add_text(pb, 1948, 2.7e6, "100mJ/cm²")
add_text(pb, 1802, 9.0e4, "120mJ/cm²")
add_text(pb, 1948, 3.8e4, "140mJ/cm²")
add_text(pb, 96, 1.56e4, "KrF laser: 248nm (5.00eV)")
add_arrow(pb, 2021, 1.49e5, 2021, 3.4e5)
add_arrow(pb, 2386, 5.9e4, 2386, 1.7e5)

# ---------------- panel c ----------------
pc, _ = make_panel(331, 20, 82, y_ticks_low)
pc.margin = (-40, 0, 0, 0)
cx_axis = lin_x_axes(pc, True)
cx_axis.axis_label = "Pulse number"
cx_axis.axis_label_standoff = 15
draw(pc, c80, BLUE)
draw(pc, c100, GREEN)
draw(pc, c120, ORANGE)
draw(pc, c140, RED)
add_text(pc, 2404, 4.47e7, "c", size="29px", align="center")
add_text(pc, 1889, 2.8e7, "80mJ/cm²")
add_text(pc, 1953, 4.6e6, "100mJ/cm²")
add_text(pc, 1793, 7.4e4, "120mJ/cm²")
add_text(pc, 1957, 2.96e4, "140mJ/cm²")
add_text(pc, 87, 1.56e4, "XeCl laser: 308nm (4.02eV)")
add_arrow(pc, 2033, 1.26e5, 2033, 3.8e5)
add_arrow(pc, 2396, 4.6e4, 2396, 1.66e5)

# ---------------- panel d ----------------
pd, pd_left = make_panel(401, 24, 93, y_ticks_all, log_x=True)
y_title_on(pd_left)
bx1 = pd.xaxis[0]
bx1.ticker = FixedTicker(ticks=d_minor_ticks)
style_axis(bx1, True, 18)
bx1.major_label_overrides = dict(zip(d_minor_ticks, d_minor_labels))
bx2 = LogAxis(ticker=FixedTicker(ticks=d_major_ticks))
style_axis(bx2, True, 5)
bx2.major_label_overrides = dict(zip(d_major_ticks, d_major_labels))
bx2.major_tick_line_color = None
bx2.axis_line_color = None
bx2.axis_label = "Pulse number"
bx2.axis_label_standoff = 12
pd.add_layout(bx2, "below")
tx = LogAxis(ticker=FixedTicker(ticks=d_minor_ticks))
style_axis(tx, False)
pd.add_layout(tx, "above")
draw(pd, d_xecl, BLACK)
draw(pd, d_krf, BLACK)
draw(pd, d_arf, BLACK)
add_text(pd, 853, 4.6e7, "d", size="29px", align="center")
add_text(pd, 244, 3.85e7, "140mJ/cm²")
add_text(pd, 84, 1.73e7, "XeCl")
add_text(pd, 74, 7.3e5, "KrF")
add_text(pd, 61, 1.05e5, "ArF")

layout = column(pa, pb, pc, pd, spacing=0)
open("out.html", "w").write(file_html(layout, INLINE))
